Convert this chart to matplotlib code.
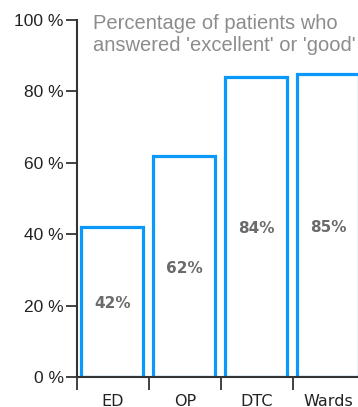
import numpy as np
import matplotlib
matplotlib.use("Agg")
import matplotlib.pyplot as plt
from matplotlib.ticker import FixedLocator, NullFormatter

# data
categories = ["ED", "OP", "DTC", "Wards"]
values = [42, 62, 84, 85]
value_labels = ["42%", "62%", "84%", "85%"]
yticks = [0, 20, 40, 60, 80, 100]
ytick_labels = ["0 %", "20 %", "40 %", "60 %", "80 %", "100 %"]
title = "Percentage of patients who\nanswered 'excellent' or 'good'"

W, H = 358, 407
fig = plt.figure(figsize=(W / 100, H / 100), dpi=100)
left_px, bottom_px, top_px = 77, 30, 20
cat_px = 71.9
ax = fig.add_axes([left_px / W, bottom_px / H, (W - left_px) / W,
                   (H - bottom_px - top_px) / H])
ax.set_xlim(0, (W - left_px) / cat_px)
ax.set_ylim(0, 100)

x = np.arange(len(categories))
ax.bar(x + 0.062, values, width=0.862, align="edge", facecolor="white",
       edgecolor="#0a98fa", linewidth=2.3, zorder=2)

for xi, v, lab in zip(x, values, value_labels):
    ax.text(xi + 0.5, v / 2 - 0.5, lab, ha="center", va="center",
            fontsize=11, fontweight="bold", color="#6b6b6b",
            family="DejaVu Sans")

ax.text(0.22, 101.8, title, ha="left", va="top", fontsize=14.5,
        color="#8c8c8c", family="Liberation Sans", linespacing=1.2)

for s in ["top", "right"]:
    ax.spines[s].set_visible(False)
for s in ["left", "bottom"]:
    ax.spines[s].set_color("#333333")
    ax.spines[s].set_linewidth(1.5)
    ax.spines[s].set_zorder(3)

ax.set_yticks(yticks)
ax.set_yticklabels(ytick_labels, family="Liberation Sans", fontsize=12.5,
                   color="#222222")
ax.tick_params(axis="y", length=8, width=1.3, color="#333333", pad=1.5)

ax.xaxis.set_major_locator(FixedLocator(list(x)))
ax.xaxis.set_major_formatter(NullFormatter())
ax.xaxis.set_minor_locator(FixedLocator(list(x + 0.5)))
ax.set_xticklabels(categories, minor=True, family="DejaVu Sans",
                   fontsize=11.5, color="#222222")
ax.tick_params(axis="x", which="major", length=9.5, width=1.3,
               color="#333333")
ax.tick_params(axis="x", which="minor", length=0, pad=12)

fig.savefig("out.png", dpi=100)
